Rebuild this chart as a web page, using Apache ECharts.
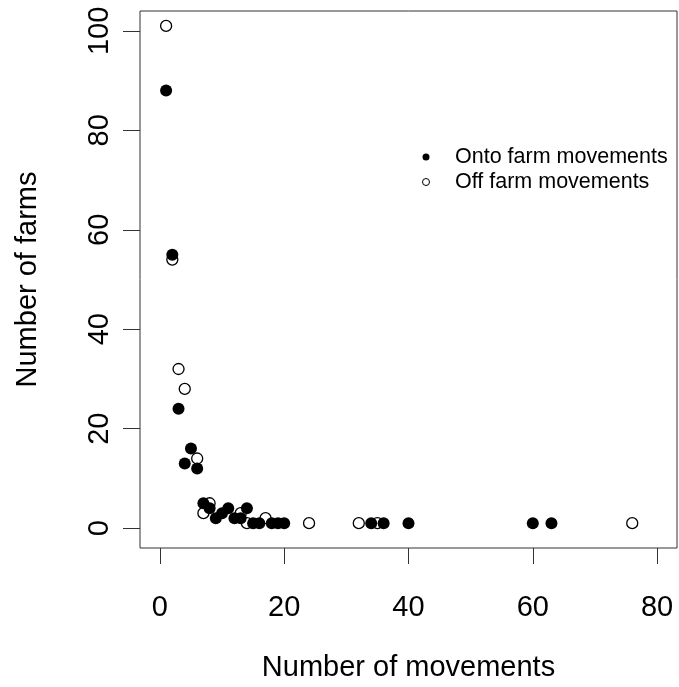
<!DOCTYPE html>
<html>
<head>
<meta charset="utf-8">
<script src="https://cdn.jsdelivr.net/npm/echarts@6/dist/echarts.min.js"></script>
<style>
html, body { margin: 0; padding: 0; background: #fff; }
#chart { width: 679px; height: 687px; }
</style>
</head>
<body>
<div id="chart"></div>
<script>
/* data: [movements, farms] */
var ontoFarm = [
    [1, 88], [2, 55], [3, 24], [4, 13], [5, 16], [6, 12], [7, 5], [8, 4],
    [9, 2], [10, 3], [11, 4], [12, 2], [13, 2], [14, 4], [15, 1], [16, 1],
    [18, 1], [19, 1], [20, 1], [34, 1], [36, 1], [40, 1], [60, 1], [63, 1]
];
var offFarm = [
    [1, 101], [2, 54], [3, 32], [4, 28], [6, 14], [7, 3], [8, 5], [13, 3],
    [14, 1], [17, 2], [24, 1], [32, 1], [35, 1], [76, 1]
];
var xTicks = [0, 20, 40, 60, 80];
var yTicks = [0, 20, 40, 60, 80, 100];
var seriesNames = ['Onto farm movements', 'Off farm movements'];

var FONT = "'Liberation Sans', Arial, sans-serif";
var INK = '#000';
var LINE = '#333';

var option = {
    backgroundColor: '#fff',
    animation: false,
    grid: {
        left: 140,
        right: 2,
        top: 11,
        bottom: 139,
        show: true,
        borderColor: LINE,
        borderWidth: 1
    },
    legend: {
        orient: 'vertical',
        left: 422,
        top: 146,
        padding: 0,
        itemWidth: 48,
        itemHeight: 7,
        itemGap: 3,
        textStyle: { fontFamily: FONT, fontSize: 21.5, color: INK },
        data: [
            { name: seriesNames[0], icon: 'circle', itemStyle: { color: '#000', borderWidth: 0 } },
            { name: seriesNames[1], icon: 'circle', itemStyle: { color: '#fff', borderColor: '#000', borderWidth: 1 } }
        ]
    },
    xAxis: {
        type: 'value',
        min: -3.2,
        max: 83.2,
        name: 'Number of movements',
        nameLocation: 'middle',
        nameGap: 105,
        nameTextStyle: { fontFamily: FONT, fontSize: 29, color: INK },
        axisLine: { show: false, onZero: false },
        splitLine: { show: false },
        axisTick: {
            show: true,
            inside: false,
            length: 16,
            customValues: xTicks,
            lineStyle: { color: LINE, width: 1 }
        },
        axisLabel: {
            customValues: xTicks,
            margin: 45,
            fontFamily: FONT,
            fontSize: 29,
            color: INK
        }
    },
    yAxis: {
        type: 'value',
        min: -4,
        max: 104,
        name: 'Number of farms',
        nameLocation: 'middle',
        nameGap: 98,
        nameTextStyle: { fontFamily: FONT, fontSize: 29, color: INK },
        axisLine: { show: false, onZero: false },
        splitLine: { show: false },
        axisTick: {
            show: true,
            inside: false,
            length: 17,
            customValues: yTicks,
            lineStyle: { color: LINE, width: 1 }
        },
        axisLabel: {
            customValues: yTicks,
            rotate: 90,
            margin: 26,
            fontFamily: FONT,
            fontSize: 29,
            color: INK
        }
    },
    series: [
        {
            name: seriesNames[1],
            type: 'scatter',
            symbol: 'circle',
            symbolSize: 11,
            z: 2,
            itemStyle: { color: '#fff', borderColor: '#000', borderWidth: 1.3, opacity: 1 },
            data: offFarm
        },
        {
            name: seriesNames[0],
            type: 'scatter',
            symbol: 'circle',
            symbolSize: 12,
            z: 3,
            itemStyle: { color: '#000', opacity: 1 },
            data: ontoFarm
        }
    ]
};

var chart = echarts.init(document.getElementById('chart'));
chart.setOption(option);
</script>
</body>
</html>
